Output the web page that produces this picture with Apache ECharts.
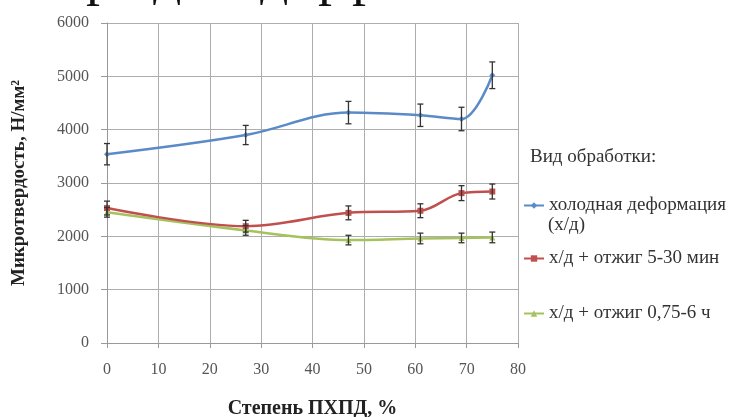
<!DOCTYPE html>
<html>
<head>
<meta charset="utf-8">
<script src="https://cdn.jsdelivr.net/npm/echarts@6/dist/echarts.min.js"></script>
<style>
html,body{margin:0;padding:0;background:#fff;}
#c{width:752px;height:417px;}
</style>
</head>
<body>
<div id="c"></div>
<script>
var xs = [0, 27, 47, 61, 69, 75];
var coldVals = [3540, 3900, 4320, 4270, 4200, 5020];
var coldErr = [200, 180, 210, 210, 220, 250];
var shortVals = [2530, 2190, 2440, 2480, 2810, 2840];
var shortErr = [130, 110, 130, 130, 140, 140];
var longVals = [2450, 2110, 1930, 1960, 1970, 1980];
var longErr = [90, 90, 90, 100, 90, 100];
var seriesNames = ['холодная деформация', 'х/д + отжиг 5-30 мин', 'х/д + отжиг 0,75-6 ч'];
var legendTitle = 'Вид обработки:';
var legendExtra = '(х/д)';
var xTitle = 'Степень ПХПД, %';
var yTitle = 'Микротвердость, Н/мм²';

var SERIF = '"Liberation Serif","DejaVu Serif",serif';
var colors = ['#5B8BC6', '#C0504D', '#A5C25C'];

function pts(vals){ return xs.map(function(x,i){ return [x, vals[i]]; }); }
function errPts(vals, errs){ return xs.map(function(x,i){ return [x, vals[i], errs[i]]; }); }

function errRender(params, api){
  var x = api.value(0), y = api.value(1), e = api.value(2);
  var hi = api.coord([x, y + e]);
  var lo = api.coord([x, y - e]);
  var w = 3;
  var st = {stroke:'#333', lineWidth:1.3};
  return {type:'group', children:[
    {type:'line', shape:{x1:hi[0], y1:hi[1], x2:lo[0], y2:lo[1]}, style:st},
    {type:'line', shape:{x1:hi[0]-w, y1:hi[1], x2:hi[0]+w, y2:hi[1]}, style:st},
    {type:'line', shape:{x1:lo[0]-w, y1:lo[1], x2:lo[0]+w, y2:lo[1]}, style:st}
  ]};
}

function lineSeries(name, vals, color, symbol){
  return {name:name, type:'line', data:pts(vals), smooth:0.35, symbol:symbol, symbolSize:6,
    itemStyle:{color:color}, lineStyle:{color:color, width:2.5}, z:3};
}
function errSeries(vals, errs){
  return {type:'custom', data:errPts(vals, errs), renderItem:errRender, z:4, silent:true,
    encode:{x:0, y:1}};
}

var chart = echarts.init(document.getElementById('c'));
var legendBase = {orient:'vertical', left:523, itemWidth:20, itemHeight:8, itemGap:4, padding:0,
  textStyle:{fontFamily:SERIF, fontSize:19, color:'#333'}, selectedMode:false};
var topGlyph = '56px ' + SERIF;
chart.setOption({
  animation:false,
  backgroundColor:'#fff',
  grid:{left:107, right:234, top:23, bottom:74, containLabel:false, outerBoundsMode:'none'},
  legend:[
    Object.assign({}, legendBase, {top:196, data:[seriesNames[0]]}),
    Object.assign({}, legendBase, {top:249, data:[seriesNames[1]]}),
    Object.assign({}, legendBase, {top:304, data:[seriesNames[2]]})
  ],
  graphic:[
    {type:'text', left:530, top:148, style:{text:legendTitle, font:'19px '+SERIF, fill:'#333'}},
    {type:'text', left:548, top:216, style:{text:legendExtra, font:'19px '+SERIF, fill:'#333'}},
    {type:'text', left:86, top:-49, style:{text:'р', font:topGlyph, fill:'#111'}},
    {type:'text', left:153, top:-49, style:{text:'д', font:topGlyph, fill:'#111'}},
    {type:'text', left:260, top:-49, style:{text:'д', font:topGlyph, fill:'#111'}},
    {type:'text', left:318, top:-49, style:{text:'р', font:topGlyph, fill:'#111'}},
    {type:'text', left:352, top:-49, style:{text:'р', font:topGlyph, fill:'#111'}}
  ],
  xAxis:{type:'value', min:0, max:80, interval:10,
    name:xTitle, nameLocation:'middle', nameGap:56,
    nameTextStyle:{fontFamily:SERIF, fontSize:20, fontWeight:'bold', color:'#222'},
    axisLine:{show:true, lineStyle:{color:'#999'}},
    axisTick:{show:true, length:5, lineStyle:{color:'#999'}},
    axisLabel:{fontFamily:SERIF, fontSize:16, color:'#555', margin:19},
    splitLine:{show:true, lineStyle:{color:'#ADADAD', width:1}}},
  yAxis:{type:'value', min:0, max:6000, interval:1000,
    name:yTitle, nameLocation:'middle', nameGap:78,
    nameTextStyle:{fontFamily:SERIF, fontSize:19, fontWeight:'bold', color:'#222'},
    axisLine:{show:true, lineStyle:{color:'#999'}},
    axisTick:{show:true, length:6, lineStyle:{color:'#999'}},
    axisLabel:{fontFamily:SERIF, fontSize:16, color:'#555', margin:18,
      formatter:function(v){ return String(v); }},
    splitLine:{show:true, lineStyle:{color:'#ADADAD', width:1}}},
  series:[
    lineSeries(seriesNames[2], longVals, colors[2], 'triangle'),
    lineSeries(seriesNames[1], shortVals, colors[1], 'rect'),
    lineSeries(seriesNames[0], coldVals, colors[0], 'diamond'),
    errSeries(longVals, longErr),
    errSeries(shortVals, shortErr),
    errSeries(coldVals, coldErr)
  ]
});
</script>
</body>
</html>
